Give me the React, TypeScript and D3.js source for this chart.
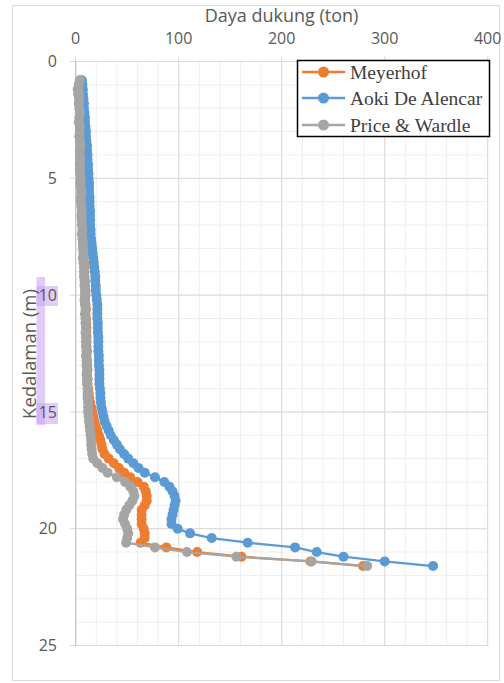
import React from "react";
import * as d3 from "d3";

const depths = [
  0.8, 1.0, 1.2, 1.4, 1.6, 1.8, 2.0, 2.2, 2.4, 2.6,
  2.8, 3.0, 3.2, 3.4, 3.6, 3.8, 4.0, 4.2, 4.4, 4.6,
  4.8, 5.0, 5.2, 5.4, 5.6, 5.8, 6.0, 6.2, 6.4, 6.6,
  6.8, 7.0, 7.2, 7.4, 7.6, 7.8, 8.0, 8.2, 8.4, 8.6,
  8.8, 9.0, 9.2, 9.4, 9.6, 9.8, 10.0, 10.2, 10.4, 10.6,
  10.8, 11.0, 11.2, 11.4, 11.6, 11.8, 12.0, 12.2, 12.4, 12.6,
  12.8, 13.0, 13.2, 13.4, 13.6, 13.8, 14.0, 14.2, 14.4, 14.6,
  14.8, 15.0, 15.2, 15.4, 15.6, 15.8, 16.0, 16.2, 16.4, 16.6,
  16.8, 17.0, 17.2, 17.4, 17.6, 17.8, 18.0, 18.2, 18.4, 18.6,
  18.8, 19.0, 19.2, 19.4, 19.6, 19.8, 20.0, 20.2, 20.4, 20.6,
  20.8, 21.0, 21.2, 21.4, 21.6,
];

const meyerhof = [
  5, 3, 2, 2.5, 3.5, 3.5, 4, 4.5, 4, 3.5,
  4.5, 4.5, 4, 4.5, 5, 4.5, 4.5, 5, 4.5, 4.5,
  5, 5.5, 5, 5.5, 6, 5.5, 5.5, 6, 6.5, 6,
  6.5, 6.5, 7, 6.5, 7, 7.5, 7.5, 8, 7.5, 8,
  8.5, 8.5, 8.5, 9, 9, 9.5, 9.5, 9, 9.5, 10,
  9.5, 10, 10, 10.5, 10, 10.5, 10.5, 10.5, 11, 10.5,
  11, 11, 11.5, 11, 11.5, 11.5, 12, 12.5, 13, 14,
  15, 16, 17, 18, 19.5, 21, 22.5, 24, 25, 26,
  28, 32, 37, 42, 47, 53, 60, 66, 68, 69,
  69, 67, 64, 64, 64, 64, 66, 67, 67, 63,
  88, 118, 161, 228, 279,
];

const aoki = [
  6, 6.5, 7, 7, 7.5, 8, 8, 8.5, 9, 9,
  9.5, 10, 10, 10.5, 11, 11, 11.5, 11.5, 12, 12,
  12.5, 12.5, 13, 13, 13, 13.5, 13.5, 13.5, 14, 14,
  14, 14, 14.5, 14.5, 15, 15.5, 16, 16.5, 17, 17.5,
  18, 18.5, 19, 19, 19.5, 19.5, 20, 20.5, 21, 21,
  21, 21, 21.5, 21.5, 21.5, 22, 22, 22, 22, 22.5,
  22.5, 22.5, 23, 23, 23, 23, 23.5, 24, 24, 24.5,
  25, 26, 27, 28, 30, 32, 34, 37, 40, 43,
  47, 51, 56, 61, 67, 77, 86, 91, 94, 96,
  97, 96, 95, 94, 93, 93, 99, 111, 132, 167,
  213, 234, 260, 300, 347,
];

const price = [
  4, 3, 2.5, 3, 3.5, 3, 3.5, 4, 3.5, 3,
  4, 4, 3.5, 4, 4.5, 4, 4, 4.5, 4, 4,
  4.5, 5, 4.5, 5, 5.5, 5, 5, 5.5, 6, 5.5,
  6, 6, 6.5, 6, 6.5, 7, 7, 7.5, 7, 7.5,
  8, 8, 8, 8.5, 8.5, 9, 9, 8.5, 9, 9.5,
  9, 9.5, 9.5, 10, 9.5, 10, 10, 10, 10.5, 10,
  10.5, 10.5, 11, 10.5, 11, 11, 11.5, 11.5, 11.5, 12,
  12, 12, 12.5, 13, 13.5, 14, 14.5, 15, 15, 15.5,
  16, 17, 21, 26, 31, 40, 48, 53, 56, 57,
  55, 52, 49, 47, 46, 48, 50, 51, 50, 49,
  77, 108, 156, 229, 283,
];

const seriesNames = ["Meyerhof", "Aoki De Alencar", "Price & Wardle"];
const seriesColors = ["#ED7D31", "#5B9BD5", "#A5A5A5"];
const seriesValues = [meyerhof, aoki, price];

const xTicks = [0, 100, 200, 300, 400];
const yTicks = [0, 5, 10, 15, 20, 25];
const xTitle = "Daya dukung (ton)";
const yTitle = "Kedalaman (m)";

export default function App() {
  const W = 504, H = 683;
  const x = d3.scaleLinear().domain([0, 400]).range([75.7, 487.7]);
  const y = d3.scaleLinear().domain([0, 25]).range([61.5, 645.5]);
  const minorX = d3.range(0, 401, 20);
  const minorY = d3.range(0, 26, 1);
  const line = d3
    .line<[number, number]>()
    .x((d) => x(d[0]))
    .y((d) => y(d[1]));
  const sans = "'Open Sans', 'Liberation Sans', sans-serif";
  const serif = "'Liberation Serif', 'DejaVu Serif', serif";
  const legendY = [72, 98, 125];

  return (
    <svg width={W} height={H} style={{ position: "absolute", left: 0, top: 0 }}>
      <rect x={0} y={0} width={W} height={H} fill="#fff" />
      <rect x={12.5} y={5.5} width={487} height={675} fill="none" stroke="#d9d9d9" />
      {/* minor grid */}
      {minorX.map((v) => (
        <line key={"mx" + v} x1={x(v)} x2={x(v)} y1={y(0)} y2={y(25)} stroke="#eeeeee" strokeWidth={1} />
      ))}
      {minorY.map((v) => (
        <line key={"my" + v} x1={x(0)} x2={x(400)} y1={y(v)} y2={y(v)} stroke="#eeeeee" strokeWidth={1} />
      ))}
      {/* major grid */}
      {xTicks.map((v) => (
        <line key={"gx" + v} x1={x(v)} x2={x(v)} y1={y(0) - 5} y2={y(25)} stroke="#d9d9d9" strokeWidth={1} />
      ))}
      {yTicks.map((v) => (
        <line key={"gy" + v} x1={x(0) - 6} x2={x(400)} y1={y(v)} y2={y(v)} stroke="#d9d9d9" strokeWidth={1} />
      ))}
      <line x1={x(0)} x2={x(0)} y1={y(0)} y2={y(25)} stroke="#bfbfbf" strokeWidth={1} />
      {/* highlight artifacts */}
      <rect x={36.5} y={277} width={8.5} height={148} fill="#c8a2f2" opacity={0.55} />
      <rect x={36.5} y={286} width={21.5} height={20} fill="#c8a2f2" opacity={0.55} />
      <rect x={36.5} y={403} width={21.5} height={21} fill="#c8a2f2" opacity={0.55} />
      {/* tick labels */}
      {xTicks.map((v) => (
        <text key={"tx" + v} x={x(v)} y={44} textAnchor="middle" fontFamily={sans} fontSize={16} fill="#595959">
          {v}
        </text>
      ))}
      {yTicks.map((v) => (
        <text key={"ty" + v} x={57} y={y(v)} dy="0.35em" textAnchor="end" fontFamily={sans} fontSize={16} fill="#595959">
          {v}
        </text>
      ))}
      <text x={281.5} y={22} textAnchor="middle" fontFamily={sans} fontSize={18} fill="#595959">
        {xTitle}
      </text>
      <text
        transform={`translate(36, 354) rotate(-90)`}
        textAnchor="middle"
        fontFamily={sans}
        fontSize={18.5}
        fill="#595959"
      >
        {yTitle}
      </text>
      {/* series */}
      {seriesValues.map((vals, i) => {
        const pts: [number, number][] = vals.map((v, k) => [v, depths[k]]);
        return (
          <g key={"s" + i}>
            <path d={line(pts) || ""} fill="none" stroke={seriesColors[i]} strokeWidth={2.25} />
            {pts.map((p, k) => (
              <circle key={k} cx={x(p[0])} cy={y(p[1])} r={5} fill={seriesColors[i]} />
            ))}
          </g>
        );
      })}
      {/* legend */}
      <rect x={297.5} y={60.5} width={192} height={76} fill="#fff" stroke="#000" strokeWidth={1.5} />
      {seriesNames.map((n, i) => (
        <g key={"l" + i}>
          <line x1={302} x2={345} y1={legendY[i]} y2={legendY[i]} stroke={seriesColors[i]} strokeWidth={2.5} />
          <circle cx={323.5} cy={legendY[i]} r={5.5} fill={seriesColors[i]} />
          <text x={350} y={legendY[i] + 7} fontFamily={serif} fontSize={19.5} fill="#404040">
            {n}
          </text>
        </g>
      ))}
    </svg>
  );
}
